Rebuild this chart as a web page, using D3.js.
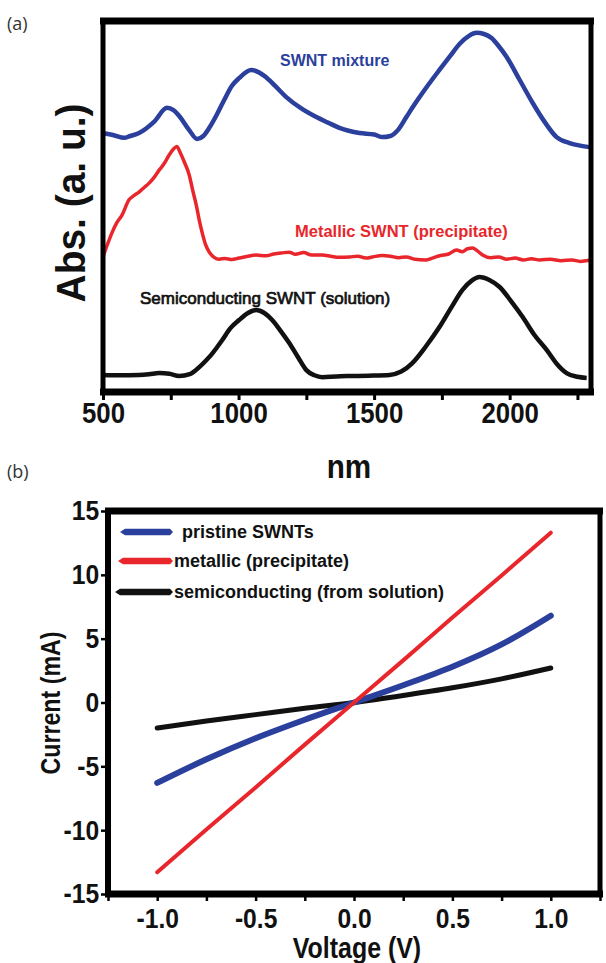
<!DOCTYPE html>
<html><head><meta charset="utf-8">
<script src="https://cdn.jsdelivr.net/npm/d3@7"></script>
<style>
html,body{margin:0;padding:0;background:#fff;}
svg{display:block;}
text{font-family:"Liberation Sans",Arial,Helvetica,sans-serif;}
</style></head>
<body>
<script>
// ---------- Panel (a): absorption spectra ----------
const nmTicks = [500, 1000, 1500, 2000];
const nmMinorTicks = [750, 1250, 1750, 2250];
const mixtureNm = [500,540,578,600,633,688,736,760,781,818,847,870,892,920,947,975,1002,1047,1095,1135,1176,1230,1287,1330,1372,1446,1500,1531,1560,1590,1619,1650,1686,1715,1741,1780,1815,1850,1878,1905,1933,1960,1989,2037,2085,2129,2173,2221,2260,2295];
const mixtureAbs = [.698,.692,.685,.690,.698,.728,.766,.760,.744,.706,.682,.690,.712,.748,.787,.825,.846,.868,.852,.825,.795,.765,.741,.726,.712,.698,.694,.687,.690,.708,.741,.776,.814,.843,.868,.905,.938,.960,.968,.965,.954,.932,.903,.841,.779,.728,.687,.671,.664,.660];
const metallicNm = [500,515,533,550,570,596,615,633,650,670,690,707,725,744,760,772,785,800,818,832,844,856,866,878,892,910,929,950,975,1002,1030,1065,1100,1130,1160,1187,1210,1240,1270,1309,1340,1370,1409,1440,1470,1494,1530,1560,1590,1619,1650,1690,1715,1745,1775,1804,1825,1845,1863,1880,1900,1930,1960,1989,2020,2050,2080,2111,2150,2190,2230,2260,2295];
const metallicAbs = [.364,.395,.429,.455,.477,.518,.530,.539,.550,.563,.580,.598,.615,.639,.655,.662,.645,.620,.585,.540,.504,.460,.429,.398,.377,.363,.358,.360,.357,.361,.365,.369,.367,.372,.375,.377,.371,.376,.369,.369,.366,.363,.364,.366,.361,.364,.368,.366,.362,.364,.358,.356,.361,.368,.372,.383,.378,.386,.388,.381,.369,.362,.364,.358,.361,.356,.359,.356,.358,.354,.356,.352,.355];
const semiNm = [500,560,633,670,707,745,781,820,855,880,899,920,940,970,1002,1035,1065,1095,1124,1155,1187,1220,1250,1280,1309,1360,1409,1480,1557,1600,1641,1690,1741,1785,1826,1860,1889,1925,1963,2005,2048,2090,2137,2175,2210,2250,2284];
const semiAbs = [.046,.045,.046,.048,.051,.049,.043,.048,.067,.085,.100,.120,.140,.172,.194,.213,.221,.213,.194,.165,.132,.093,.059,.045,.040,.042,.043,.044,.046,.055,.078,.122,.175,.228,.275,.300,.310,.302,.283,.245,.202,.155,.113,.075,.051,.041,.038];

// ---------- Panel (b): I-V curves ----------
const voltage = [-1, -0.75, -0.5, -0.25, 0, 0.25, 0.5, 0.75, 1];
const pristineI = [-6.3, -4.45, -2.8, -1.35, 0, 1.35, 2.8, 4.55, 6.8];
const metallicI = [-13.3, -9.95, -6.65, -3.3, 0, 3.3, 6.65, 9.95, 13.3];
const semiI = [-2.0, -1.45, -0.95, -0.45, 0, 0.55, 1.15, 1.85, 2.7];
const voltTicks = [-1.0, -0.5, 0.0, 0.5, 1.0];
const voltMinor = [-1.25, -0.75, -0.25, 0.25, 0.75, 1.25];
const currentTicks = [15, 10, 5, 0, -5, -10, -15];
const legendLabels = ["pristine SWNTs", "metallic (precipitate)", "semiconducting (from solution)"];

const BLUE = "#2b3f9c", RED = "#e8262b", BLACK = "#111";
const hy = s => String(s).replace("\u2212", "-");

const svg = d3.select("body").append("svg").attr("width", 606).attr("height", 963);

// ===== Panel (a) =====
const xa = d3.scaleLinear().domain([500, 2300]).range([103, 591]);
const ya = d3.scaleLinear().domain([0, 1]).range([392, 21]);

svg.append("text").attr("x", 7).attr("y", 30).text("(a)")
  .style("font-family", "'Open Sans',sans-serif").style("font-size", "18px").attr("fill", "#333");
svg.append("text").attr("x", 7).attr("y", 478).text("(b)")
  .style("font-family", "'Open Sans',sans-serif").style("font-size", "18px").attr("fill", "#333");

const lineA = (xs, ys) => d3.line().x((d, i) => xa(xs[i])).y((d, i) => ya(ys[i])).curve(d3.curveMonotoneX)(xs);

svg.append("path").attr("d", lineA(mixtureNm, mixtureAbs)).attr("fill", "none").attr("stroke", BLUE).attr("stroke-width", 4.5).attr("stroke-linejoin", "round");
svg.append("path").attr("d", lineA(metallicNm, metallicAbs)).attr("fill", "none").attr("stroke", RED).attr("stroke-width", 3.5).attr("stroke-linejoin", "round");
svg.append("path").attr("d", lineA(semiNm, semiAbs)).attr("fill", "none").attr("stroke", BLACK).attr("stroke-width", 4.5).attr("stroke-linejoin", "round");

// frame a
const fa = svg.append("g");
fa.append("line").attr("x1", 100).attr("x2", 594).attr("y1", 21).attr("y2", 21).attr("stroke", "#000").attr("stroke-width", 7);
fa.append("line").attr("x1", 591).attr("x2", 591).attr("y1", 18).attr("y2", 395).attr("stroke", "#000").attr("stroke-width", 5);
fa.append("line").attr("x1", 103).attr("x2", 103).attr("y1", 18).attr("y2", 395).attr("stroke", "#000").attr("stroke-width", 5);

const axA = svg.append("g").attr("transform", "translate(0,392)")
  .call(d3.axisBottom(xa).tickValues(nmTicks.concat(nmMinorTicks)).tickSize(8).tickFormat(d => nmTicks.includes(d) ? d : ""));
axA.select(".domain").attr("stroke", "#000").attr("stroke-width", 7).attr("d", "M100,0H594");
axA.selectAll(".tick line").attr("stroke", "#000").attr("stroke-width", 3);
axA.selectAll(".tick text").attr("dy", 0).attr("y", 31).attr("fill", "#111").attr("transform", "scale(0.86,1)")
  .style("font-size", "30px").style("font-weight", "bold");

svg.append("text").attr("transform", "translate(349,478) scale(0.9,1)").attr("text-anchor", "middle").text("nm")
  .style("font-size", "33px").style("font-weight", "bold").attr("fill", "#111");
svg.append("text").attr("transform", "translate(85,203) rotate(-90) scale(0.95,1)").attr("text-anchor", "middle").text("Abs. (a. u.)")
  .style("font-size", "41px").style("font-weight", "bold").attr("fill", "#111");

svg.append("text").attr("x", 280).attr("y", 66).text("SWNT mixture")
  .style("font-size", "16px").style("font-weight", "bold").attr("fill", BLUE);
svg.append("text").attr("x", 295).attr("y", 237).text("Metallic SWNT (precipitate)")
  .style("font-size", "16.5px").style("font-weight", "bold").attr("fill", RED);
svg.append("text").attr("x", 140).attr("y", 304).text("Semiconducting SWNT (solution)")
  .style("font-size", "17px").attr("fill", "#111").attr("stroke", "#111").attr("stroke-width", 0.7);

// ===== Panel (b) =====
const xb = d3.scaleLinear().domain([-1.25, 1.25]).range([108, 600]);
const yb = d3.scaleLinear().domain([-15, 15]).range([894, 511]);

const lineB = ys => d3.line().x((d, i) => xb(voltage[i])).y((d, i) => yb(ys[i])).curve(d3.curveMonotoneX)(voltage);
svg.append("path").attr("d", lineB(semiI)).attr("fill", "none").attr("stroke", BLACK).attr("stroke-width", 5).attr("stroke-linecap", "round");
svg.append("path").attr("d", lineB(pristineI)).attr("fill", "none").attr("stroke", BLUE).attr("stroke-width", 6).attr("stroke-linecap", "round");
svg.append("path").attr("d", lineB(metallicI)).attr("fill", "none").attr("stroke", RED).attr("stroke-width", 4).attr("stroke-linecap", "round");

const fb = svg.append("g");
fb.append("line").attr("x1", 105).attr("x2", 603).attr("y1", 511).attr("y2", 511).attr("stroke", "#000").attr("stroke-width", 7);
fb.append("line").attr("x1", 600).attr("x2", 600).attr("y1", 508).attr("y2", 897).attr("stroke", "#000").attr("stroke-width", 5);

const axBy = svg.append("g").attr("transform", "translate(108,0)")
  .call(d3.axisLeft(yb).tickValues(currentTicks).tickSize(7).tickFormat(d => hy(d)));
axBy.select(".domain").attr("stroke", "#000").attr("stroke-width", 6).attr("d", "M0,508V897");
axBy.selectAll(".tick line").attr("stroke", "#000").attr("stroke-width", 2.5);
axBy.selectAll(".tick text").attr("x", -10).attr("fill", "#111").attr("transform", "scale(0.88,1)")
  .style("font-size", "28px").style("font-weight", "bold");

const axBx = svg.append("g").attr("transform", "translate(0,894)")
  .call(d3.axisBottom(xb).tickValues(voltTicks.concat(voltMinor)).tickSize(7)
    .tickFormat(d => voltTicks.includes(d) ? hy(d3.format(".1f")(d)) : ""));
axBx.select(".domain").attr("stroke", "#000").attr("stroke-width", 7).attr("d", "M105,0H603");
axBx.selectAll(".tick line").attr("stroke", "#000").attr("stroke-width", 2.5);
axBx.selectAll(".tick text").attr("dy", 0).attr("y", 34).attr("fill", "#111").attr("transform", "scale(0.88,1)")
  .style("font-size", "28px").style("font-weight", "bold");

svg.append("text").attr("transform", "translate(357,958) scale(0.86,1)").attr("text-anchor", "middle").text("Voltage (V)")
  .style("font-size", "29px").style("font-weight", "bold").attr("fill", "#111");
svg.append("text").attr("transform", "translate(60,703) rotate(-90) scale(0.86,1)").attr("text-anchor", "middle").text("Current (mA)")
  .style("font-size", "27px").style("font-weight", "bold").attr("fill", "#111");

// legend
const legColors = [BLUE, RED, BLACK];
const legY = [532, 561, 592];
const legX1 = [120, 118, 115];
legendLabels.forEach((lab, i) => {
  const x1 = legX1[i], x2 = 173, y = legY[i], h = 3.2;
  svg.append("path")
    .attr("d", `M${x1},${y}L${x1 + 5},${y - h}H${x2 - 3}L${x2},${y}L${x2 - 3},${y + h}H${x1 + 5}Z`)
    .attr("fill", legColors[i]);
  svg.append("text").attr("x", i === 0 ? 182 : 174).attr("y", y + 6).text(lab)
    .style("font-size", "18px").style("font-weight", "bold").attr("fill", "#111");
});
</script>
</body></html>
